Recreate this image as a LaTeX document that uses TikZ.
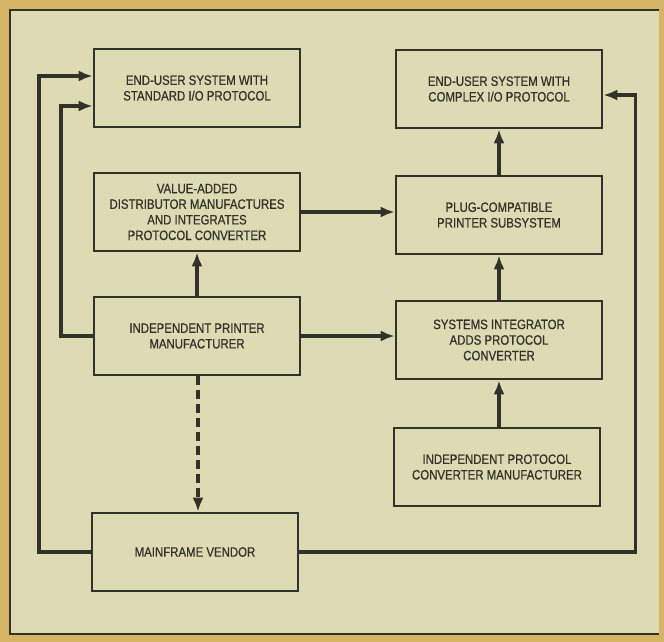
\documentclass[tikz,border=0pt]{standalone}
\usepackage{fontspec}
\setmainfont{Liberation Sans}[FakeStretch=0.84,FakeBold=0.6]
\usetikzlibrary{arrows.meta,calc}
\definecolor{paper}{HTML}{DEDAB4}
\definecolor{edge}{HTML}{D6B466}
\definecolor{ink}{HTML}{33322A}
\tikzset{
  block/.style={draw=ink, line width=2.6pt, fill=paper, minimum width=206pt,
    minimum height=78pt, align=center, text=ink, inner sep=2pt,
    font=\fontsize{13.6}{15.6}\selectfont},
  link/.style={draw=ink, line width=3.6pt, -{Latex[length=14pt,width=11pt]}},
  dashlink/.style={link, dash pattern=on 9pt off 5pt},
}
\begin{document}
\begin{tikzpicture}[x=1pt,y=-1pt]
  % page background and panel
  \fill[edge] (0,0) rectangle (664,642);
  \fill[paper] (10,10) rectangle (659,634);
  \draw[ink, line width=2.2pt] (659,10) -- (10,10) -- (10,634) -- (659,634);
  \useasboundingbox (0,0) rectangle (664,642);

  % left column
  \node[block] (A) at (197,88)  {END-USER SYSTEM WITH\\STANDARD I/O PROTOCOL};
  \node[block] (B) at (197,212) {VALUE-ADDED\\DISTRIBUTOR MANUFACTURES\\AND INTEGRATES\\PROTOCOL CONVERTER};
  \node[block] (C) at (197,336) {INDEPENDENT PRINTER\\MANUFACTURER};
  \node[block] (D) at (195,552) {MAINFRAME VENDOR};

  % right column
  \node[block] (E) at (499,89)  {END-USER SYSTEM WITH\\COMPLEX I/O PROTOCOL};
  \node[block] (F) at (499,215) {PLUG-COMPATIBLE\\PRINTER SUBSYSTEM};
  \node[block] (G) at (499,340) {SYSTEMS INTEGRATOR\\ADDS PROTOCOL\\CONVERTER};
  \node[block] (H) at (497,467) {INDEPENDENT PROTOCOL\\CONVERTER MANUFACTURER};

  % connectors
  \draw[link] (D.west) -- ++(-52,0) |- ([yshift=12pt]A.west);
  \draw[link] (C.west) -- ++(-32,0) |- ([yshift=-18pt]A.west);
  \draw[link] (C.north) -- (B.south);
  \draw[link] (C.east) -- (C.east -| G.west);
  \draw[link] (B.east) -- (B.east -| F.west);
  \draw[link] (F.north) -- (E.south);
  \draw[link] (G.north) -- (F.south);
  \draw[link] (H.north -| G.south) -- (G.south);
  \draw[link] (D.east) -- ++(336,0) |- ([yshift=-6pt]E.east);
  \draw[dashlink] ([xshift=1pt]C.south) -- ([xshift=3pt]D.north);
\end{tikzpicture}
\end{document}
